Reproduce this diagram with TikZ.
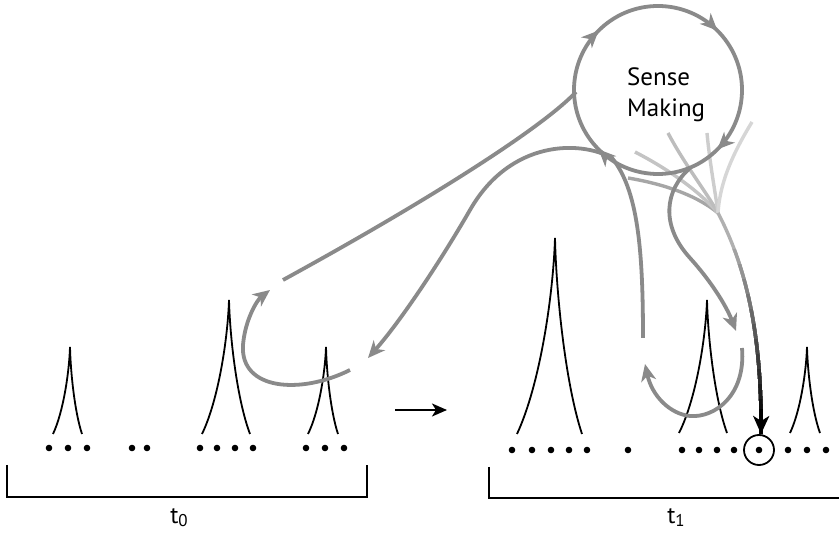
\documentclass[tikz,border=0pt]{standalone}
\usepackage{fontspec}
\setsansfont{PT Sans}
\usetikzlibrary{arrows.meta,decorations.markings}
\definecolor{flowgray}{HTML}{8A8A8A}
\definecolor{fanA}{HTML}{C4C4C4}
\definecolor{fanB}{HTML}{BDBDBD}
\definecolor{fanC}{HTML}{CDCDCD}
\definecolor{fanD}{HTML}{D6D6D6}
\definecolor{fanE}{HTML}{A6A6A6}
\definecolor{startgray}{HTML}{B0B0B0}
\begin{document}
\begin{tikzpicture}[x=1pt,y=-1pt,
  flow/.style={draw=flowgray, line width=3.8pt},
  fan/.style={line width=3.4pt},
  gtip/.style={-{Stealth[length=17pt,width=15pt,inset=5pt]}},
  peakline/.style={draw=black, line width=1.8pt},
  dot/.style={circle, fill=black, inner sep=0pt, minimum size=6.6pt},
  bracket/.style={draw=black, line width=1.5pt},
  lbl/.style={font=\sffamily\fontsize{24}{24}\selectfont, inner sep=0pt}
]
\useasboundingbox[fill=white] (0,0) rectangle (839,534);

% ---------- peaks ----------
\foreach \l/\ax/\ay/\r/\b in {53/70/347/82/434, 202/229/300/250/434, 308/326/347/338/434,
                              517/555/238/582/434, 679/707/300/727/433, 790/807/347/820/433}{
  \draw[peakline] (\l,\b) .. controls ({\l+0.6*(\ax-\l)},{\b-0.25*(\b-\ay)}) and ({\ax-0.05*(\ax-\l)},{\ay+0.3*(\b-\ay)}) .. (\ax,\ay)
     .. controls ({\ax+0.05*(\r-\ax)},{\ay+0.3*(\b-\ay)}) and ({\r-0.6*(\r-\ax)},{\b-0.25*(\b-\ay)}) .. (\r,\b);
}

% ---------- dots ----------
\foreach \x [count=\i] in {49,68,87,132,147,200,217,235,253,306,325,344}
  \node[dot] (a\i) at (\x,448) {};
\foreach \x [count=\i] in {512,532,551,569,587,628,682,699,717,734,759,788,807,826}
  \node[dot] (b\i) at (\x,450) {};
\node[draw=black, line width=1.8pt, circle, minimum size=30pt, inner sep=0pt] (focus) at (b11) {};

% ---------- brackets and labels ----------
\draw[bracket] (7,465) -- (7,497) -- (367,497) -- (367,465);
\draw[bracket] (489,467) -- (489,498) -- (845,498);
\node[lbl, anchor=base] (t0) at (179,524) {t\raisebox{-3pt}{\fontsize{17}{17}\selectfont 0}};
\node[lbl, anchor=base] (t1) at (676,524) {t\raisebox{-3pt}{\fontsize{17}{17}\selectfont 1}};

% ---------- time arrow ----------
\coordinate (ta) at (395,410);
\coordinate (tb) at (447,410);
\draw[line width=2pt, -{Stealth[length=15pt,width=13pt,inset=4pt]}] (ta) -- (tb);

% ---------- fan of light lines ----------
\coordinate (conv) at (718,213);
\draw[fan, draw=fanE] (628,178) .. controls (670,185) and (700,198) .. (conv);
\draw[fan, draw=fanA] (635,152) .. controls (670,170) and (700,192) .. (conv);
\draw[fan, draw=fanB] (668,133) .. controls (685,165) and (705,190) .. (conv);
\draw[fan, draw=fanC] (707,133) .. controls (710,165) and (715,190) .. (conv);
\draw[fan, draw=fanD] (752,122) .. controls (735,150) and (720,180) .. (conv);

% ---------- dark gradient line to the focus dot ----------
\coordinate (dtip) at (761,434);
\draw[fan, draw=startgray] (conv) .. controls (748,270) and (762,340) .. (dtip);
\foreach \k in {1,...,12}{
  \begin{scope}
    \clip (600,{235+15*\k}) rectangle (839,534);
    \pgfmathsetmacro{\pc}{\k*100/12}
    \draw[fan, draw=black!\pc!startgray] (conv) .. controls (748,270) and (762,340) .. (dtip);
  \end{scope}
}
\begin{scope}
  \clip (600,410) rectangle (839,534);
  \draw[fan, draw=black, -{Stealth[length=18pt,width=16pt,inset=5pt]}] (conv) .. controls (748,270) and (762,340) .. (dtip);
\end{scope}

% ---------- gray flow curves ----------
% circle
\coordinate (sm) at (658,90);
\draw[flow, postaction={decorate}, decoration={markings,
   mark=at position 0.125 with {\arrow{Stealth[length=17pt,width=15pt,inset=5pt]}},
   mark=at position 0.375 with {\arrow{Stealth[length=17pt,width=15pt,inset=5pt]}},
   mark=at position 0.625 with {\arrow{Stealth[length=17pt,width=15pt,inset=5pt]}},
   mark=at position 0.875 with {\arrow{Stealth[length=17pt,width=15pt,inset=5pt]}}}]
   (742,90) arc[start angle=0, end angle=360, radius=84];

% long line from the gap to sense making
\coordinate (gapA) at (283,280);
\coordinate (smL) at (576,92);
\draw[flow] (gapA) .. controls (420,205) and (540,130) .. (smL);
% C-curve from t0 data up to the gap
\coordinate (c0s) at (350,370);
\coordinate (c0t) at (270,290);
\draw[flow, gtip] (c0s) .. controls (300,395) and (240,390) .. (243,345) .. controls (245,320) and (257,300) .. (c0t);

% from t1 gap up to sense making and back down to t0
\coordinate (gapB) at (643,338);
\coordinate (smB) at (612,158);
\coordinate (c1t) at (368,358);
\draw[flow, gtip] (gapB) .. controls (643,250) and (638,190) .. (smB)
   .. controls (580,140) and (510,140) .. (470,210) .. controls (440,262) and (400,322) .. (c1t);

% S-curve from sense making down to t1 data
\coordinate (smD) at (690,168);
\coordinate (dT) at (736,331);
\draw[flow, gtip] (smD) .. controls (665,190) and (660,225) .. (690,258) .. controls (710,280) and (726,305) .. (dT);

% loop at t1
\coordinate (eS) at (742,348);
\coordinate (eT) at (645,364);
\draw[flow, gtip] (eS) .. controls (746,395) and (715,418) .. (690,416) .. controls (670,414) and (652,396) .. (eT);

% ---------- label ----------
\node[font=\sffamily\fontsize{25}{31}\selectfont, anchor=base west, inner sep=0pt] (s1) at (627,86) {Sense};
\node[font=\sffamily\fontsize{25}{31}\selectfont, anchor=base west, inner sep=0pt] (s2) at (627,117) {Making};
\end{tikzpicture}
\end{document}
